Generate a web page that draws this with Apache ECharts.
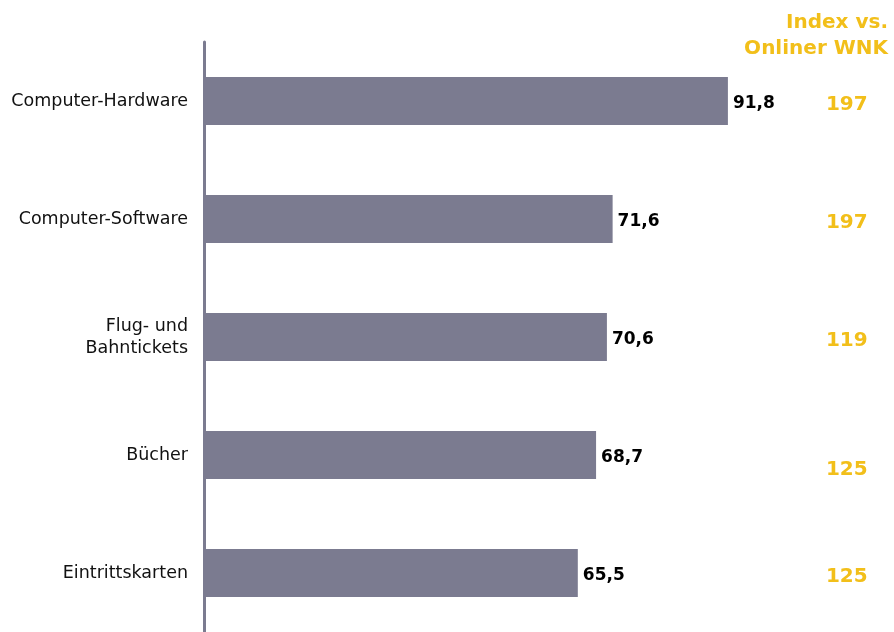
<!DOCTYPE html>
<html>
<head>
<meta charset="utf-8">
<script src="https://cdn.jsdelivr.net/npm/echarts@6/dist/echarts.min.js"></script>
<style>
  html, body { margin: 0; padding: 0; background: #ffffff; }
  #chart { width: 894px; height: 632px; }
</style>
</head>
<body>
<div id="chart"></div>
<script>
// Product categories, shares (%) and index values vs. online population
const categories = ['Computer-Hardware', 'Computer-Software', 'Flug- und\nBahntickets', 'Bücher', 'Eintrittskarten'];
const shares = [91.8, 71.6, 70.6, 68.7, 65.5];
const indexValues = ['197', '197', '119', '125', '125'];
const indexShifted = [false, false, false, true, false];
const indexHeader = ['Index vs.', 'Onliner WNK'];

const FONT = '"DejaVu Sans", Verdana, sans-serif';
const BAR = '#7b7b90';
const GOLD = '#f2bf1a';

const chart = echarts.init(document.getElementById('chart'));
chart.setOption({
  animation: false,
  backgroundColor: '#ffffff',
  // two-line column header, each line right-aligned to the page edge
  graphic: indexHeader.map((line, i) => ({
    type: 'text',
    right: 6,
    top: 13 + i * 26,
    style: { text: line, fill: GOLD, font: 'bold 20px ' + FONT }
  })),
  grid: { left: 204, top: 42, width: 570.7, height: 593, containLabel: false },
  xAxis: {
    type: 'value', min: 0, max: 100, show: false
  },
  yAxis: [
    {
      type: 'category',
      data: categories,
      inverse: true,
      axisLine: { show: true, lineStyle: { color: '#7b7b90', width: 3 } },
      axisTick: { show: false },
      axisLabel: {
        color: '#111111', fontFamily: FONT, fontSize: 17.5, margin: 16, lineHeight: 22,
        align: 'right', padding: [6, 0, 0, 0]
      }
    },
    {
      type: 'category',
      data: categories,
      inverse: true,
      position: 'right',
      axisLine: { show: false },
      axisTick: { show: false },
      axisLabel: {
        margin: 93,
        align: 'right',
        formatter: (v, i) => indexShifted[i] ? '{low|' + indexValues[i] + '}' : '{n|' + indexValues[i] + '}',
        rich: {
          n: { color: GOLD, fontFamily: FONT, fontSize: 20, fontWeight: 'bold', padding: [8, 0, 0, 0] },
          low: { color: GOLD, fontFamily: FONT, fontSize: 20, fontWeight: 'bold', padding: [30, 0, 0, 0] }
        }
      }
    }
  ],
  series: [{
    type: 'bar',
    data: shares,
    barWidth: '40.5%',
    itemStyle: { color: BAR },
    label: {
      show: true,
      position: 'right',
      distance: 5,
      offset: [0, 3],
      color: '#000000',
      fontFamily: FONT,
      fontSize: 17,
      fontWeight: 'bold',
      formatter: p => String(p.value).replace('.', ',')
    }
  }]
});
</script>
</body>
</html>
